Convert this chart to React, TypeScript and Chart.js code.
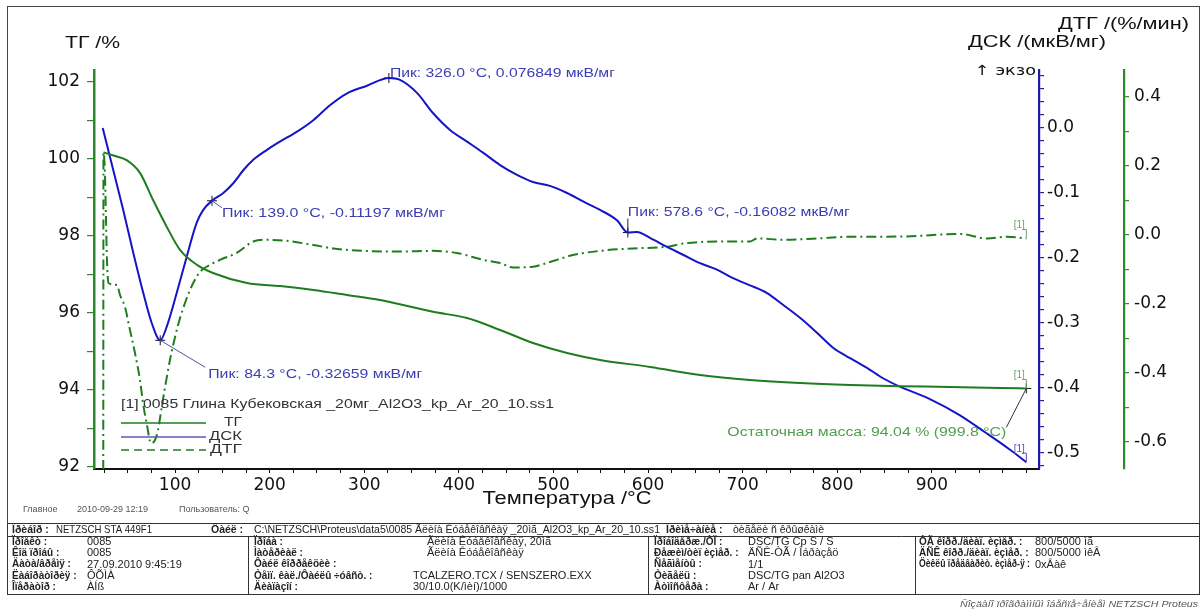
import React, { useEffect, useRef } from 'react';
import { Chart, registerables } from 'chart.js';

Chart.register(...registerables);

// ---------------- DATA ----------------
// ТГ (mass, %) vs temperature (°C)
const tgT = [24.3, 26.0, 35.0, 48.8, 62.9, 76.6, 91.4, 105.2, 123.2, 140.1, 176.0, 210.9, 246.1, 281.8, 316.6, 372.6, 408.6, 443.5, 478.4, 514.3, 549.2, 602.0, 654.9, 707.7, 760.6, 813.5, 866.2, 919.1, 972.1, 999.8];
const tgV = [100.17, 100.16, 100.09, 99.97, 99.64, 98.94, 98.23, 97.64, 97.25, 97.04, 96.78, 96.70, 96.60, 96.47, 96.34, 96.03, 95.87, 95.56, 95.22, 94.96, 94.78, 94.60, 94.39, 94.26, 94.18, 94.13, 94.10, 94.08, 94.05, 94.04];

// ДСК (мкВ/мг)
const dscT = [23.5, 34.7, 45.2, 55.8, 66.4, 75.3, 84.3, 91.1, 101.7, 112.3, 122.8, 129.8, 139.0, 151.0, 161.5, 172.1, 182.7, 196.8, 210.9, 228.5, 246.1, 263.7, 281.4, 302.9, 326.0, 337.7, 355.7, 372.6, 390.6, 408.6, 425.5, 443.5, 461.4, 478.4, 496.3, 514.3, 531.2, 549.2, 567.1, 578.6, 588.3, 602.0, 620.0, 636.9, 654.9, 672.8, 689.7, 707.7, 725.7, 742.6, 760.6, 778.5, 795.5, 813.5, 831.4, 848.3, 866.2, 897.9, 929.7, 956.1, 982.6, 999.8];
const dscV = [0.000, -0.065, -0.126, -0.192, -0.254, -0.300, -0.32659, -0.306, -0.254, -0.198, -0.146, -0.126, -0.11197, -0.100, -0.085, -0.065, -0.049, -0.034, -0.021, -0.006, 0.012, 0.035, 0.053, 0.065, 0.076849, 0.074, 0.054, 0.023, -0.003, -0.021, -0.038, -0.057, -0.072, -0.083, -0.089, -0.100, -0.113, -0.126, -0.142, -0.16082, -0.160, -0.169, -0.183, -0.195, -0.208, -0.218, -0.231, -0.242, -0.254, -0.272, -0.292, -0.315, -0.338, -0.354, -0.369, -0.385, -0.398, -0.417, -0.442, -0.468, -0.495, -0.514];

// ДТГ (%/мин)
const dtgT = [24.1, 24.3, 25.9, 27.0, 28.0, 29.6, 38.6, 41.8, 47.1, 52.3, 57.6, 62.9, 66.1, 70.3, 74.5, 78.8, 82.0, 86.2, 89.4, 94.6, 99.9, 105.2, 110.5, 115.8, 121.0, 126.3, 133.4, 147.5, 165.1, 182.7, 196.8, 218.0, 246.1, 267.2, 298.9, 337.7, 372.6, 398.0, 425.5, 443.5, 457.2, 478.4, 493.1, 503.7, 520.6, 549.2, 584.0, 620.0, 636.9, 672.8, 707.7, 715.1, 742.6, 778.5, 813.5, 848.3, 884.2, 901.2, 929.7, 958.3, 979.5, 999.8];
const dtgV = [-0.68, 0.238, 0.174, 0.043, -0.072, -0.139, -0.145, -0.174, -0.209, -0.275, -0.342, -0.420, -0.487, -0.551, -0.603, -0.594, -0.565, -0.493, -0.441, -0.362, -0.296, -0.241, -0.197, -0.159, -0.130, -0.107, -0.092, -0.072, -0.052, -0.019, -0.014, -0.017, -0.029, -0.039, -0.046, -0.048, -0.046, -0.052, -0.072, -0.081, -0.094, -0.092, -0.081, -0.072, -0.058, -0.046, -0.039, -0.034, -0.025, -0.019, -0.019, -0.010, -0.014, -0.010, -0.005, -0.005, -0.003, 0.000, 0.003, -0.010, -0.005, -0.010];

// DSC peaks and residual mass
const peakT = [84.3, 139.0, 326.0, 578.6];
const peakV = [-0.32659, -0.11197, 0.076849, -0.16082];
const residualT = [999.8];
const residualV = [94.04];

// axis ranges
const xRange = [14.3, 1013.2];
const tgRange = [91.948, 102.312];
const dscRange = [-0.5246, 0.0892];
const dtgRange = [-0.678, 0.478];

// table texts
const headerRow: [string, number, boolean, number][] = [
  ['Ïðèáîð :', 12, true, 0],
  ['NETZSCH STA 449F1', 56, false, 96],
  ['Ôàéë :', 211, true, 0],
  ['C:\\NETZSCH\\Proteus\\data5\\0085 Ãëèíà Êóáåêîâñêàÿ _20ìã_Al2O3_kp_Ar_20_10.ss1', 254, false, 406],
  ['Ïðèìå÷àíèå :', 666, true, 0],
  ['òèãåëè ñ êðûøêàìè', 733, false, 0],
];
const col1 = [['Ïðîåêò :', '0085'], ['Êîä ïðîáû :', '0085'], ['Äàòà/âðåìÿ :', '27.09.2010 9:45:19'], ['Ëàáîðàòîðèÿ :', 'ÔÕÌÀ'], ['Îïåðàòîð :', 'ÀÍß']];
const col2 = [['Ïðîáà :', 'Ãëèíà Êóáåêîâñêàÿ, 20ìã'], ['Ìàòåðèàë :', 'Ãëèíà Êóáåêîâñêàÿ'], ['Ôàéë êîððåêöèè :', ''], ['Òåìï. êàë./Ôàéëû ÷óâñò. :', 'TCALZERO.TCX / SENSZERO.EXX'], ['Äèàïàçîí :', '30/10.0(K/ìèí)/1000']];
const col3 = [['Ïðîáîäåðæ./ÒÏ :', 'DSC/TG Cp S / S'], ['Ðåæèì/òèï èçìåð. :', 'ÄÑÊ-ÒÃ / Îáðàçåö'], ['Ñåãìåíòû :', '1/1'], ['Òèãåëü :', 'DSC/TG pan Al2O3'], ['Àòìîñôåðà :', 'Ar / Ar']];
const col4 = [['ÒÃ êîðð./äèàï. èçìåð. :', '800/5000 ìã'], ['ÄÑÊ êîðð./äèàï. èçìåð. :', '800/5000 ìêÂ'], ['Öèêëû ïðåäâàðèò. èçìåð-ÿ :', '0xÂàê']];
const footerText = 'Ñîçäàíî ïðîãðàììíûì îáåñïå÷åíèåì NETZSCH Proteus';

// ---------------- STYLE ----------------
const GREEN = '#1f7d1f';
const GREEN_AX = '#2a8a2a';
const BLUE = '#1414c8';
const BLUE_AX = '#1c1ca6';
const BLUE_TXT = '#3d3db2';
const GREEN_TXT = '#4e9e4e';
const TICK_FONT = { family: 'DejaVu Sans', size: 17 };
const SANS = '"Liberation Sans", Arial, sans-serif';

const peakLayout = [
  { lead: [45, 27], dx: 48, dy: 34, w: 214, leadColor: '#5050a8' },
  { lead: [10, 7], dx: 10, dy: 13, w: 223, leadColor: '#5050a8' },
  { lead: null, dx: 1, dy: -5, w: 225, leadColor: '#222' },
  { lead: [0, -14], dx: 0, dy: -20, w: 222, leadColor: '#222' },
];

type Align = 'left' | 'right' | 'center';
function drawText(ctx: CanvasRenderingContext2D, s: string, x: number, y: number, font: string, color: string, align: Align = 'left', w?: number, maxW?: number) {
  ctx.save();
  ctx.font = font;
  ctx.fillStyle = color;
  ctx.textBaseline = 'middle';
  ctx.textAlign = 'left';
  const m = ctx.measureText(s).width || 1;
  let sx = w ? w / m : 1;
  if (maxW && m * sx > maxW) sx = maxW / m;
  const tw = m * sx;
  const left = align === 'left' ? x : align === 'right' ? x - tw : x - tw / 2;
  ctx.translate(left, y);
  ctx.scale(sx, 1);
  ctx.fillText(s, 0, 0);
  ctx.restore();
}

function line(ctx: CanvasRenderingContext2D, x1: number, y1: number, x2: number, y2: number, color: string, lw = 1, dash: number[] = []) {
  ctx.save();
  ctx.strokeStyle = color;
  ctx.lineWidth = lw;
  ctx.setLineDash(dash);
  ctx.beginPath();
  ctx.moveTo(x1, y1);
  ctx.lineTo(x2, y2);
  ctx.stroke();
  ctx.restore();
}

const toPts = (t: number[], v: number[]) => t.map((x, i) => ({ x, y: v[i] }));

const overlay = {
  id: 'overlay',
  afterDraw(chart: any) {
    const ctx: CanvasRenderingContext2D = chart.ctx;
    const sx = chart.scales.x;
    const sTG = chart.scales.yTG;
    const sD = chart.scales.yDSC;
    const sG = chart.scales.yDTG;

    // outer frame
    ctx.save();
    ctx.strokeStyle = '#444';
    ctx.lineWidth = 1;
    ctx.strokeRect(7.5, 6.5, 1192, 517);
    ctx.restore();

    // axis titles
    drawText(ctx, 'ТГ /%', 65, 44, `16px ${SANS}`, '#111', 'left', 55);
    drawText(ctx, 'ДСК /(мкВ/мг)', 968, 43, `16px ${SANS}`, '#111', 'left', 138);
    drawText(ctx, 'ДТГ /(%/мин)', 1058, 25, `16px ${SANS}`, '#111', 'left', 131);
    drawText(ctx, '↑ экзо', 975, 71, '14px "DejaVu Sans", sans-serif', '#111', 'left', 61);
    drawText(ctx, 'Температура /°C', 567, 499, `19px ${SANS}`, '#111', 'center', 169);

    // peak annotations
    peakT.forEach((t, i) => {
      const px = sx.getPixelForValue(t);
      const py = sD.getPixelForValue(peakV[i]);
      const L = peakLayout[i];
      if (L.lead) line(ctx, px, py, px + L.lead[0], py + L.lead[1], L.leadColor, 1);
      drawText(ctx, `Пик: ${t.toFixed(1)} °C, ${peakV[i]} мкВ/мг`, px + L.dx, py + L.dy, `13px ${SANS}`, BLUE_TXT, 'left', L.w);
    });

    // residual mass
    {
      const px = sx.getPixelForValue(residualT[0]);
      const py = sTG.getPixelForValue(residualV[0]);
      line(ctx, px, py, px - 20, py + 39, '#333', 1);
      drawText(ctx, `Остаточная масса: ${residualV[0].toFixed(2)} % (${residualT[0].toFixed(1)} °C)`, px - 20, py + 44, `13px ${SANS}`, GREEN_TXT, 'right', 279);
    }

    // [1] end labels
    const ends: [number[], number[], any, string][] = [
      [dtgT, dtgV, sG, '#6aa56a'],
      [tgT, tgV, sTG, '#6aa56a'],
      [dscT, dscV, sD, '#5050c0'],
    ];
    ends.forEach(([T, V, sc, col]) => {
      const px = sx.getPixelForValue(T[T.length - 1]);
      const py = sc.getPixelForValue(V[V.length - 1]);
      drawText(ctx, '[1]', px - 7, py - 13, `10px ${SANS}`, col, 'center');
      line(ctx, px, py - 9, px, py, col, 1);
      line(ctx, px - 4, py - 9, px, py - 9, col, 1);
    });

    // legend
    drawText(ctx, '[1] 0085 Глина Кубековская _20мг_Al2O3_kp_Ar_20_10.ss1', 121, 405, `12px ${SANS}`, '#333', 'left', 433);
    line(ctx, 121, 423, 206, 423, GREEN, 1.3);
    line(ctx, 121, 437, 206, 437, '#5a5ab8', 1.5);
    line(ctx, 121, 450, 206, 450, GREEN, 1.3, [8, 5]);
    drawText(ctx, 'ТГ', 242, 423, `12px ${SANS}`, '#333', 'right', 18);
    drawText(ctx, 'ДСК', 242, 437, `12px ${SANS}`, '#333', 'right', 33);
    drawText(ctx, 'ДТГ', 242, 450, `12px ${SANS}`, '#333', 'right', 32);

    // status line
    drawText(ctx, 'Главное', 23, 510, `9px ${SANS}`, '#555');
    drawText(ctx, '2010-09-29 12:19', 77, 510, `9px ${SANS}`, '#555');
    drawText(ctx, 'Пользователь: Q', 179, 510, `9px ${SANS}`, '#555');

    // table
    ctx.save();
    ctx.strokeStyle = '#333';
    ctx.lineWidth = 1;
    ctx.strokeRect(7.5, 523.5, 1192, 71);
    ctx.restore();
    line(ctx, 7.5, 536.5, 1199.5, 536.5, '#333', 1);
    [248.5, 648.5, 915.5].forEach((xx) => line(ctx, xx, 536.5, xx, 594.5, '#333', 1));
    headerRow.forEach(([s, x, b, w]) => drawText(ctx, s, x, 530, `${b ? 'bold ' : ''}10.5px ${SANS}`, '#222', 'left', w || undefined));
    const rowY = [542, 553.3, 564.6, 575.9, 587.2];
    const cols: [string[][], number, number[]][] = [
      [col1, 12, [87, 87, 87, 87, 87]],
      [col2, 254, [427, 427, 427, 413, 413]],
      [col3, 654, [748, 748, 748, 748, 748]],
      [col4, 919, [1035, 1035, 1035]],
    ];
    cols.forEach(([rows, lx, vx]) => {
      rows.forEach(([lab, val], r) => {
        drawText(ctx, lab, lx, rowY[r], `bold 10px ${SANS}`, '#222', 'left', undefined, vx[r] - lx - 5);
        if (val) drawText(ctx, val, vx[r], rowY[r], `11px ${SANS}`, '#222');
      });
    });
    drawText(ctx, footerText, 1198, 604, `italic 9px ${SANS}`, '#555', 'right', 238);
  },
};

export default function App() {
  const ref = useRef<HTMLCanvasElement | null>(null);

  useEffect(() => {
    if (!ref.current) return;
    const chart = new Chart(ref.current, {
      type: 'line',
      data: {
        datasets: [
          { label: 'ТГ', data: toPts(tgT, tgV), yAxisID: 'yTG', borderColor: GREEN, borderWidth: 2, pointRadius: 0, cubicInterpolationMode: 'monotone', fill: false } as any,
          { label: 'ДСК', data: toPts(dscT, dscV), yAxisID: 'yDSC', borderColor: BLUE, borderWidth: 2, pointRadius: 0, cubicInterpolationMode: 'monotone', fill: false } as any,
          { label: 'ДТГ', data: toPts(dtgT, dtgV), yAxisID: 'yDTG', borderColor: GREEN, borderWidth: 2, borderDash: [10, 4, 2, 4], pointRadius: 0, cubicInterpolationMode: 'monotone', fill: false } as any,
          { type: 'scatter', label: 'peaks', data: toPts(peakT, peakV), yAxisID: 'yDSC', pointStyle: 'cross', pointRadius: 5, borderColor: '#111', backgroundColor: '#111', borderWidth: 1 } as any,
          { type: 'scatter', label: 'residual', data: toPts(residualT, residualV), yAxisID: 'yTG', pointStyle: 'cross', pointRadius: 5, borderColor: '#111', backgroundColor: '#111', borderWidth: 1 } as any,
        ],
      },
      options: {
        animation: false,
        responsive: false,
        devicePixelRatio: 1,
        layout: { padding: { top: 70, left: 0, right: 0, bottom: 0 } },
        plugins: { legend: { display: false }, tooltip: { enabled: false } },
        events: [],
        scales: {
          x: {
            type: 'linear', position: 'bottom', min: xRange[0], max: xRange[1],
            afterFit: (s: any) => { s.height = 141; },
            border: { display: true, color: '#111', width: 2 },
            grid: { drawOnChartArea: false, drawTicks: true, tickLength: 4, color: '#111', lineWidth: 1 },
            ticks: {
              stepSize: 25, includeBounds: false, autoSkip: false, maxRotation: 0, minRotation: 0, padding: 2, color: '#111', font: TICK_FONT,
              callback: (v: any) => (v % 100 === 0 && v < 1000 ? String(v) : ''),
            },
          },
          yTG: {
            type: 'linear', position: 'left', min: tgRange[0], max: tgRange[1],
            afterFit: (s: any) => { s.width = 94; },
            border: { display: true, color: GREEN_AX, width: 2.5 },
            grid: { drawOnChartArea: false, drawTicks: true, tickLength: 7, color: GREEN_AX, lineWidth: 1.2 },
            ticks: {
              stepSize: 1, includeBounds: false, autoSkip: false, padding: 7, color: '#111', font: TICK_FONT,
              callback: (v: any) => (Math.round(v) % 2 === 0 ? String(Math.round(v)) : ''),
            },
          },
          yDSC: {
            type: 'linear', position: 'right', min: dscRange[0], max: dscRange[1],
            afterFit: (s: any) => { s.width = 85; },
            border: { display: true, color: BLUE_AX, width: 2.2 },
            grid: { drawOnChartArea: false, drawTicks: true, tickLength: 5, color: BLUE_AX, lineWidth: 1.2 },
            ticks: {
              stepSize: 0.02, includeBounds: false, autoSkip: false, padding: 3, color: '#111', font: TICK_FONT,
              callback: (v: any) => {
                const t = Math.round(v * 10);
                return Math.abs(v * 10 - t) < 1e-6 ? (t / 10).toFixed(1) : '';
              },
            },
          },
          yDTG: {
            type: 'linear', position: 'right', min: dtgRange[0], max: dtgRange[1],
            afterFit: (s: any) => { s.width = 79; },
            border: { display: true, color: GREEN_AX, width: 2.2 },
            grid: { drawOnChartArea: false, drawTicks: true, tickLength: 5, color: GREEN_AX, lineWidth: 1.2 },
            ticks: {
              stepSize: 0.1, includeBounds: false, autoSkip: false, padding: 5, color: '#111', font: TICK_FONT,
              callback: (v: any) => {
                const t = Math.round(v * 10);
                return t % 2 === 0 ? (t / 10).toFixed(1) : '';
              },
            },
          },
        },
      } as any,
      plugins: [overlay],
    });
    return () => chart.destroy();
  }, []);

  return (
    <>
      <style>{'html,body{margin:0;padding:0;background:#fff;}'}</style>
      <canvas ref={ref} width={1203} height={610} style={{ display: 'block' }} />
    </>
  );
}
